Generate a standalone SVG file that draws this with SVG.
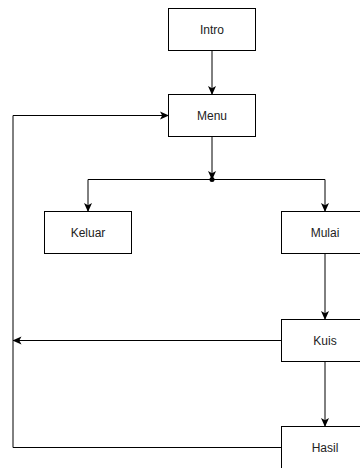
<svg xmlns="http://www.w3.org/2000/svg" width="360" height="468" viewBox="0 0 360 468">
<defs>
<style>
.box{fill:#fff;stroke:#000;stroke-width:1}
.lbl{font-family:"Liberation Sans",Arial,sans-serif;font-size:12px;fill:#222;text-anchor:middle}
.con{fill:none;stroke:#000;stroke-width:1}
</style>
<marker id="arr" viewBox="0 0 9 9" markerWidth="9" markerHeight="9" refX="8.5" refY="4.5" orient="auto" markerUnits="userSpaceOnUse">
<path d="M0,0.5 L9,4.5 L0,8.5 L2.2,4.5 z" fill="#000"/>
</marker>
</defs>
<rect width="360" height="468" fill="#fff"/>
<g id="connectors">
<path class="con" d="M212 50.5 V94.5" marker-end="url(#arr)"/>
<path class="con" d="M212 136.5 V179.5" marker-end="url(#arr)"/>
<circle cx="212" cy="179.5" r="2.5" fill="#000"/>
<path class="con" d="M212 179.5 H88 V211.5" marker-end="url(#arr)"/>
<path class="con" d="M212 179.5 H325 V211.5" marker-end="url(#arr)"/>
<path class="con" d="M325 253.5 V319.5" marker-end="url(#arr)"/>
<path class="con" d="M325 361.5 V426.5" marker-end="url(#arr)"/>
<path class="con" d="M281.5 340.5 H13" marker-end="url(#arr)"/>
<path class="con" d="M281.5 447.5 H13 V115.5 H168.5" marker-end="url(#arr)"/>
</g>
<g id="intro"><rect class="box" x="168.5" y="8.5" width="87" height="42"/><text class="lbl" x="212" y="33.8">Intro</text></g>
<g id="menu"><rect class="box" x="168.5" y="94.5" width="87" height="42"/><text class="lbl" x="212" y="119.8">Menu</text></g>
<g id="keluar"><rect class="box" x="44.5" y="211.5" width="87" height="42"/><text class="lbl" x="88" y="236.8">Keluar</text></g>
<g id="mulai"><rect class="box" x="281.5" y="211.5" width="87" height="42"/><text class="lbl" x="325" y="236.8">Mulai</text></g>
<g id="kuis"><rect class="box" x="281.5" y="319.5" width="87" height="42"/><text class="lbl" x="325" y="344.8">Kuis</text></g>
<g id="hasil"><rect class="box" x="281.5" y="426.5" width="87" height="42"/><text class="lbl" x="325" y="451.8">Hasil</text></g>
</svg>
